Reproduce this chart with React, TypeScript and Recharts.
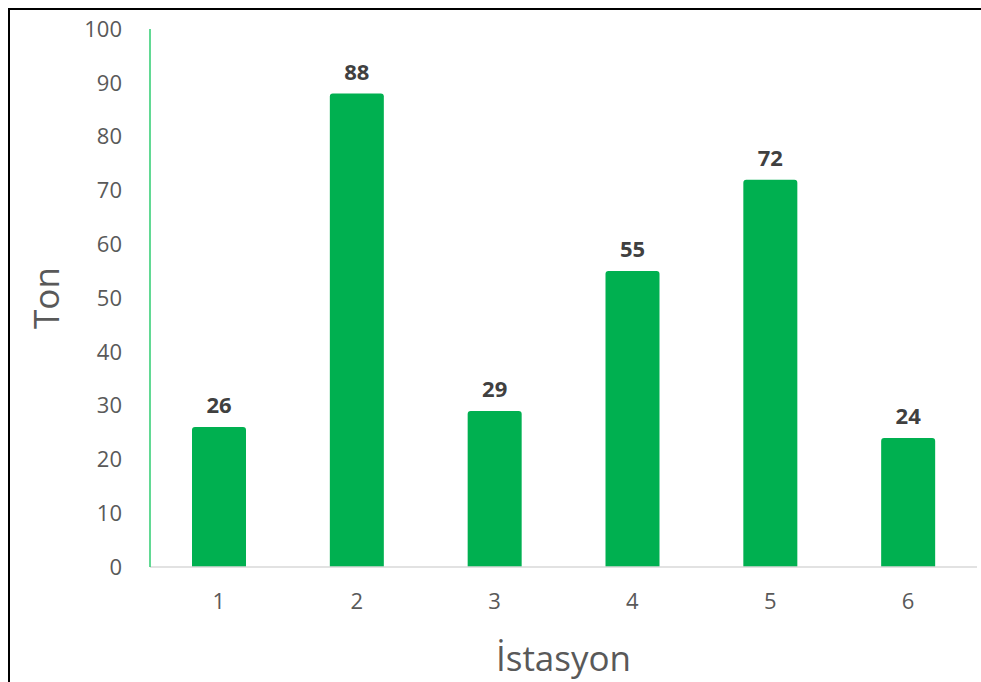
import React from "react";
import { BarChart, Bar, XAxis, YAxis, LabelList, Label } from "recharts";

const stations = ["1", "2", "3", "4", "5", "6"];
const tons = [26, 88, 29, 55, 72, 24];
const yTicks = [0, 10, 20, 30, 40, 50, 60, 70, 80, 90, 100];

const data = stations.map((station, i) => ({ station, ton: tons[i] }));

const FONT = "'Open Sans', 'Noto Sans', sans-serif";
const GREEN = "#00B050";
const GREY = "#595959";

function YTitle(props: any) {
  const vb = props.viewBox;
  const cx = vb.x + 35;
  const cy = vb.y + vb.height / 2;
  return (
    <text
      x={cx}
      y={cy}
      transform={`rotate(-90, ${cx}, ${cy})`}
      textAnchor="middle"
      dominantBaseline="central"
      fill={GREY}
      fontSize={35}
      fontFamily={FONT}
    >
      Ton
    </text>
  );
}

function XTitle(props: any) {
  const vb = props.viewBox;
  return (
    <text
      x={vb.x + vb.width / 2}
      y={vb.y + 90}
      textAnchor="middle"
      dominantBaseline="central"
      fill={GREY}
      fontSize={35}
      fontFamily={FONT}
    >
      İstasyon
    </text>
  );
}

export default function App() {
  // fixed so the frame can run to the window edge without scrollbars
  return (
    <div
      style={{
        position: "fixed",
        left: 8,
        top: 8,
        width: 973,
        height: 674,
        boxSizing: "border-box",
        borderLeft: "2px solid #000",
        borderTop: "2px solid #000",
        background: "#fff",
        overflow: "hidden",
      }}
    >
      <BarChart
        width={971}
        height={672}
        data={data}
        margin={{ top: 19, right: 4, left: 0, bottom: 0 }}
      >
        <XAxis
          dataKey="station"
          height={115}
          axisLine={{ stroke: "#d9d9d9", strokeWidth: 1.5 }}
          tickLine={false}
          tickSize={0}
          tickMargin={26}
          tick={{ fill: GREY, fontSize: 22, fontFamily: FONT }}
        >
          <Label content={<XTitle />} />
        </XAxis>
        <YAxis
          width={140}
          domain={[0, 100]}
          ticks={yTicks}
          interval={0}
          axisLine={{ stroke: "#2ECC71", strokeWidth: 1.5 }}
          tickLine={false}
          tickSize={0}
          tickMargin={28}
          tick={{ fill: GREY, fontSize: 22, fontFamily: FONT }}
        >
          <Label content={<YTitle />} />
        </YAxis>
        <Bar dataKey="ton" fill={GREEN} barSize={54} radius={[3, 3, 0, 0]} isAnimationActive={false}>
          <LabelList
            dataKey="ton"
            position="top"
            offset={14}
            fill="#404040"
            fontSize={22}
            fontWeight="bold"
            fontFamily={FONT}
          />
        </Bar>
      </BarChart>
    </div>
  );
}
